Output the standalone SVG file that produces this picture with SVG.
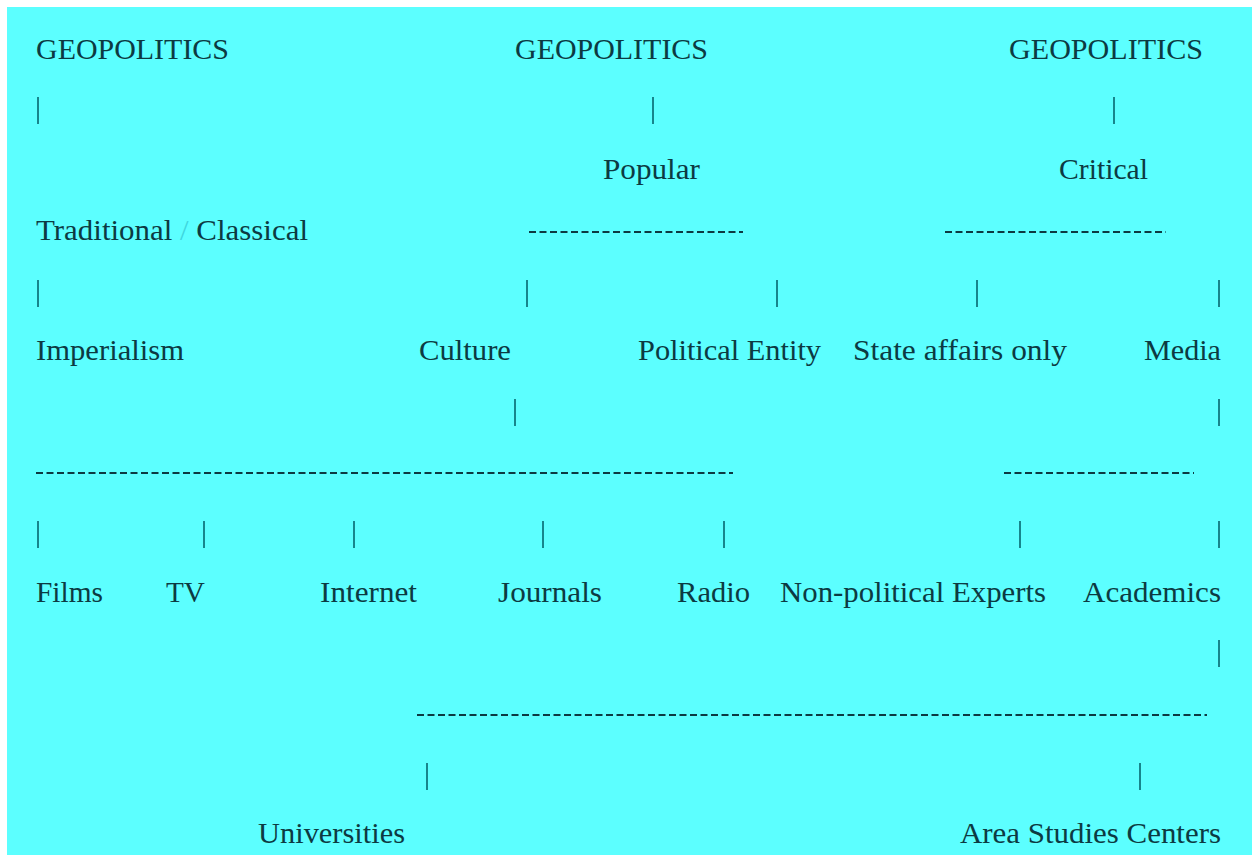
<svg xmlns="http://www.w3.org/2000/svg" width="1252" height="855" viewBox="0 0 1252 855">
<style>
text{font-family:'Liberation Serif','DejaVu Serif',serif;font-size:30px;fill:#0c3a42}
.bar{stroke:#17858c;stroke-width:2}
.dash{stroke:#0c3a42;stroke-width:2;stroke-dasharray:7 3.5}
</style>
<rect x="0" y="0" width="1252" height="855" fill="#ffffff"/>
<rect x="7" y="7" width="1245" height="848" fill="#5cffff"/>
<g id="connectors">
<line class="bar" x1="38" y1="97" x2="38" y2="124"/>
<line class="bar" x1="653" y1="97" x2="653" y2="124"/>
<line class="bar" x1="1114" y1="97" x2="1114" y2="124"/>
<line class="dash" x1="529" y1="232" x2="743" y2="232"/>
<line class="dash" x1="945" y1="232" x2="1166" y2="232"/>
<line class="bar" x1="38" y1="280" x2="38" y2="307"/>
<line class="bar" x1="527" y1="280" x2="527" y2="307"/>
<line class="bar" x1="777" y1="280" x2="777" y2="307"/>
<line class="bar" x1="977" y1="280" x2="977" y2="307"/>
<line class="bar" x1="1219" y1="280" x2="1219" y2="307"/>
<line class="bar" x1="515" y1="399" x2="515" y2="426"/>
<line class="bar" x1="1219" y1="399" x2="1219" y2="426"/>
<line class="dash" x1="36" y1="473" x2="733" y2="473"/>
<line class="dash" x1="1004" y1="473" x2="1194" y2="473"/>
<line class="bar" x1="38" y1="521" x2="38" y2="548"/>
<line class="bar" x1="204" y1="521" x2="204" y2="548"/>
<line class="bar" x1="354" y1="521" x2="354" y2="548"/>
<line class="bar" x1="543" y1="521" x2="543" y2="548"/>
<line class="bar" x1="724" y1="521" x2="724" y2="548"/>
<line class="bar" x1="1020" y1="521" x2="1020" y2="548"/>
<line class="bar" x1="1219" y1="521" x2="1219" y2="548"/>
<line class="bar" x1="1219" y1="640" x2="1219" y2="667"/>
<line class="dash" x1="417" y1="715" x2="1207" y2="715"/>
<line class="bar" x1="427" y1="763" x2="427" y2="790"/>
<line class="bar" x1="1140" y1="763" x2="1140" y2="790"/>
</g>
<g font-family="Liberation Serif, DejaVu Serif, serif">
<g id="geo1"><text x="36" y="59" textLength="193" lengthAdjust="spacingAndGlyphs">GEOPOLITICS</text></g>
<g id="geo2"><text x="515" y="59" textLength="193" lengthAdjust="spacingAndGlyphs">GEOPOLITICS</text></g>
<g id="geo3"><text x="1009" y="59" textLength="194" lengthAdjust="spacingAndGlyphs">GEOPOLITICS</text></g>
<g id="popular"><text x="603" y="179" textLength="97" lengthAdjust="spacingAndGlyphs">Popular</text></g>
<g id="critical"><text x="1059" y="179" textLength="89" lengthAdjust="spacingAndGlyphs">Critical</text></g>
<g id="traditional"><text x="36" y="240" textLength="272" lengthAdjust="spacingAndGlyphs">Traditional <tspan fill="#3fd6de">/</tspan> Classical</text></g>
<g id="imperialism"><text x="36" y="360" textLength="148" lengthAdjust="spacingAndGlyphs">Imperialism</text></g>
<g id="culture"><text x="419" y="360" textLength="92" lengthAdjust="spacingAndGlyphs">Culture</text></g>
<g id="political-entity"><text x="638" y="360" textLength="183" lengthAdjust="spacingAndGlyphs">Political Entity</text></g>
<g id="state-affairs"><text x="853" y="360" textLength="214" lengthAdjust="spacingAndGlyphs">State affairs only</text></g>
<g id="media"><text x="1144" y="360" textLength="77" lengthAdjust="spacingAndGlyphs">Media</text></g>
<g id="films"><text x="36" y="602" textLength="67" lengthAdjust="spacingAndGlyphs">Films</text></g>
<g id="tv"><text x="166" y="602" textLength="39" lengthAdjust="spacingAndGlyphs">TV</text></g>
<g id="internet"><text x="320" y="602" textLength="97" lengthAdjust="spacingAndGlyphs">Internet</text></g>
<g id="journals"><text x="498" y="602" textLength="104" lengthAdjust="spacingAndGlyphs">Journals</text></g>
<g id="radio"><text x="677" y="602" textLength="73" lengthAdjust="spacingAndGlyphs">Radio</text></g>
<g id="experts"><text x="780" y="602" textLength="266" lengthAdjust="spacingAndGlyphs">Non-political Experts</text></g>
<g id="academics"><text x="1083" y="602" textLength="138" lengthAdjust="spacingAndGlyphs">Academics</text></g>
<g id="universities"><text x="258" y="843" textLength="147" lengthAdjust="spacingAndGlyphs">Universities</text></g>
<g id="area-studies"><text x="960" y="843" textLength="261" lengthAdjust="spacingAndGlyphs">Area Studies Centers</text></g>
</g>
</svg>
